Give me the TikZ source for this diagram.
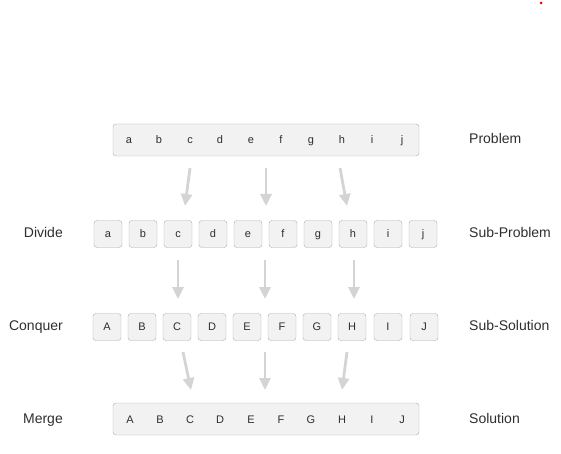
\documentclass[tikz,border=0pt]{standalone}
\usepackage{fontspec}
\setmainfont{Liberation Sans}
\usetikzlibrary{arrows.meta, positioning}

\definecolor{boxfill}{HTML}{F2F2F2}
\definecolor{boxline}{HTML}{ADADAD}
\definecolor{arrowgray}{HTML}{D4D4D4}
\definecolor{txtgray}{HTML}{2E2E2E}

\begin{document}
\begin{tikzpicture}[x=1pt, y=-1pt,
	bar/.style={draw=boxline, fill=boxfill, rounded corners=3pt, minimum width=306pt, minimum height=32pt, inner sep=0pt},
	cell/.style={draw=boxline, fill=boxfill, rounded corners=3pt, minimum width=28pt, minimum height=27pt, inner sep=0pt, text=txtgray, text height=1.5ex, text depth=.25ex, font=\fontsize{11}{13}\selectfont},
	letter/.style={text=txtgray, inner sep=0pt, text height=1.5ex, text depth=.25ex, font=\fontsize{11}{13}\selectfont},
	stage/.style={text=txtgray, inner sep=0pt, text height=1.5ex, text depth=.25ex, font=\fontsize{14}{16}\selectfont},
	arr/.style={draw=arrowgray, line width=2.8pt, -{Triangle[width=11pt, length=12pt]}}]
		\useasboundingbox (0,0) rectangle (561,454);
		\fill[red] (541,3) circle (1.5);
		% problem
		\node[bar] (P) at (266,140) {};
		\foreach \x/\l in {129/a,159/b,190/c,220/d,251/e,281/f,311/g,342/h,372/i,402/j}
			\node[letter] (P\l) at (\x,140) {\l};
		% sub-problems
		\foreach \x/\l in {108/a,143/b,178/c,213/d,248/e,283/f,318/g,353/h,388/i,423/j}
			\node[cell] (S\l) at (\x,234) {\l};
		% sub-solutions
		\foreach \x/\l in {107/A,142/B,177/C,212/D,247/E,282/F,317/G,352/H,388/I,424/J}
			\node[cell] (C\l) at (\x,327) {\l};
		% solution
		\node[bar] (M) at (266,419) {};
		\foreach \x/\l in {130/A,160/B,190/C,220/D,251/E,281/F,311/G,342/H,372/I,402/J}
			\node[letter] (M\l) at (\x,420) {\l};
		% stage names
		\node[stage, anchor=west] (problem) at (469,140) {Problem};
		\node[stage, anchor=west] (subproblem) at (469,234) {Sub-Problem};
		\node[stage, anchor=west] (subsolution) at (469,327) {Sub-Solution};
		\node[stage, anchor=west] (solution) at (469,420) {Solution};
		\node[stage, anchor=east] (divide) at (63,234) {Divide};
		\node[stage, anchor=east] (conquer) at (63,327) {Conquer};
		\node[stage, anchor=east] (merge) at (63,420) {Merge};
		% arrows
		\coordinate (d1) at (190,168); \coordinate (d1t) at (185,206);
		\coordinate (d2) at (266,168); \coordinate (d2t) at (266,206);
		\coordinate (d3) at (340,168); \coordinate (d3t) at (347,206);
		\coordinate (c1) at (178,260); \coordinate (c1t) at (178,299);
		\coordinate (c2) at (265,260); \coordinate (c2t) at (265,299);
		\coordinate (c3) at (354,260); \coordinate (c3t) at (354,299);
		\coordinate (m1) at (183,352); \coordinate (m1t) at (191,390);
		\coordinate (m2) at (265,352); \coordinate (m2t) at (265,390);
		\coordinate (m3) at (347,352); \coordinate (m3t) at (342,390);
		\draw[arr] (d1) -- (d1t);
		\draw[arr] (d2) -- (d2t);
		\draw[arr] (d3) -- (d3t);
		\draw[arr] (c1) -- (c1t);
		\draw[arr] (c2) -- (c2t);
		\draw[arr] (c3) -- (c3t);
		\draw[arr] (m1) -- (m1t);
		\draw[arr] (m2) -- (m2t);
		\draw[arr] (m3) -- (m3t);
	\end{tikzpicture}
\end{document}
